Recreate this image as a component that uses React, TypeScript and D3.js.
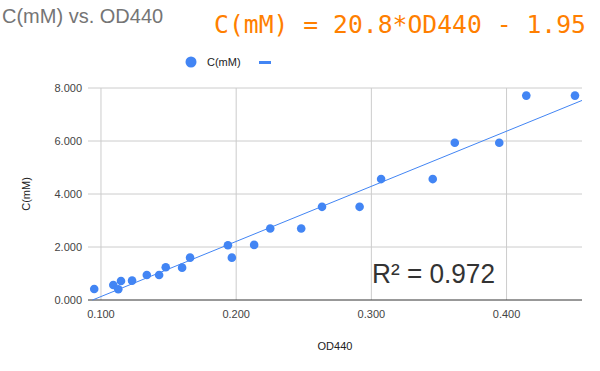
import React from "react";
import * as d3 from "d3";

const od440 = [0.095, 0.1091, 0.1128, 0.1148, 0.123, 0.1339, 0.143, 0.1479, 0.16, 0.1659, 0.1939, 0.1968, 0.2133, 0.2252, 0.2481, 0.2635, 0.2913, 0.3072, 0.3454, 0.3617, 0.3946, 0.4146, 0.4506];
const concentration = [0.416, 0.567, 0.405, 0.718, 0.73, 0.945, 0.945, 1.236, 1.221, 1.599, 2.068, 1.599, 2.079, 2.696, 2.696, 3.516, 3.516, 4.563, 4.563, 5.936, 5.936, 7.713, 7.713];
const xTicks = [0.1, 0.2, 0.3, 0.4];
const yTicks = [0, 2, 4, 6, 8];
const slope = 20.8;
const intercept = -1.95;
const titleText = "C(mM) vs. OD440";
const equationText = "C(mM) = 20.8*OD440 - 1.95";
const r2Text = "R² = 0.972";
const seriesName = "C(mM)";
const xLabel = "OD440";
const yLabel = "C(mM)";

const W = 600, H = 371;
const left = 88, right = 582, top = 88, bottom = 300;

export default function App() {
  const x = d3.scaleLinear().domain([0.0904, 0.4558]).range([left, right]);
  const y = d3.scaleLinear().domain([0, 8]).range([bottom, top]);
  const x0 = -intercept / slope;
  const x1 = x.domain()[1];
  const line = d3.line<[number, number]>().x(d => x(d[0])).y(d => y(d[1]));
  const pts = od440.map((v, i) => [v, concentration[i]] as [number, number]);
  const font = "Arial, 'Liberation Sans', sans-serif";
  return (
    <svg width={W} height={H} style={{ position: "absolute", left: 0, top: 0, background: "#fff" }}>
      <rect x={0} y={0} width={W} height={H} fill="#fff" />
      <text x={2} y={23} fontFamily={font} fontSize={20} fill="#757575">{titleText}</text>
      <text x={214} y={33} fontFamily="'DejaVu Sans Mono', monospace" fontSize={25} fill="#ff7f00" textLength={372} lengthAdjust="spacingAndGlyphs">{equationText}</text>
      {/* legend */}
      <circle cx={191} cy={62} r={5.5} fill="#4285f4" />
      <text x={207} y={66} fontFamily={font} fontSize={11} fill="#222">{seriesName}</text>
      <rect x={259} y={61} width={12} height={3} fill="#4285f4" />
      {/* grid */}
      {yTicks.filter(t => t > 0).map(t => (
        <line key={"gy" + t} x1={left} x2={right} y1={y(t)} y2={y(t)} stroke="#cccccc" strokeWidth={1} />
      ))}
      {xTicks.map(t => (
        <line key={"gx" + t} x1={x(t)} x2={x(t)} y1={top} y2={bottom} stroke="#cccccc" strokeWidth={1} />
      ))}
      <line x1={left} x2={right} y1={bottom} y2={bottom} stroke="#333" strokeWidth={1} />
      {yTicks.map(t => (
        <text key={"ty" + t} x={82} y={y(t) + 4} textAnchor="end" fontFamily={font} fontSize={11} fill="#444">{d3.format(".3f")(t)}</text>
      ))}
      {xTicks.map(t => (
        <text key={"tx" + t} x={x(t)} y={318} textAnchor="middle" fontFamily={font} fontSize={11} fill="#444">{d3.format(".3f")(t)}</text>
      ))}
      <text x={x((x.domain()[0] + x.domain()[1]) / 2)} y={350} textAnchor="middle" fontFamily={font} fontSize={11} fill="#222">{xLabel}</text>
      <text transform={`translate(30,${y(4)}) rotate(-90)`} textAnchor="middle" fontFamily={font} fontSize={11} fill="#222">{yLabel}</text>
      <path d={line([[x0, 0], [x1, slope * x1 + intercept]]) || ""} fill="none" stroke="#4285f4" strokeWidth={1} />
      {pts.map((p, i) => (
        <circle key={i} cx={x(p[0])} cy={y(p[1])} r={4.3} fill="#4285f4" />
      ))}
      <text x={372} y={283} fontFamily={font} fontSize={27} fill="#333" textLength={123} lengthAdjust="spacingAndGlyphs">{r2Text}</text>
    </svg>
  );
}
